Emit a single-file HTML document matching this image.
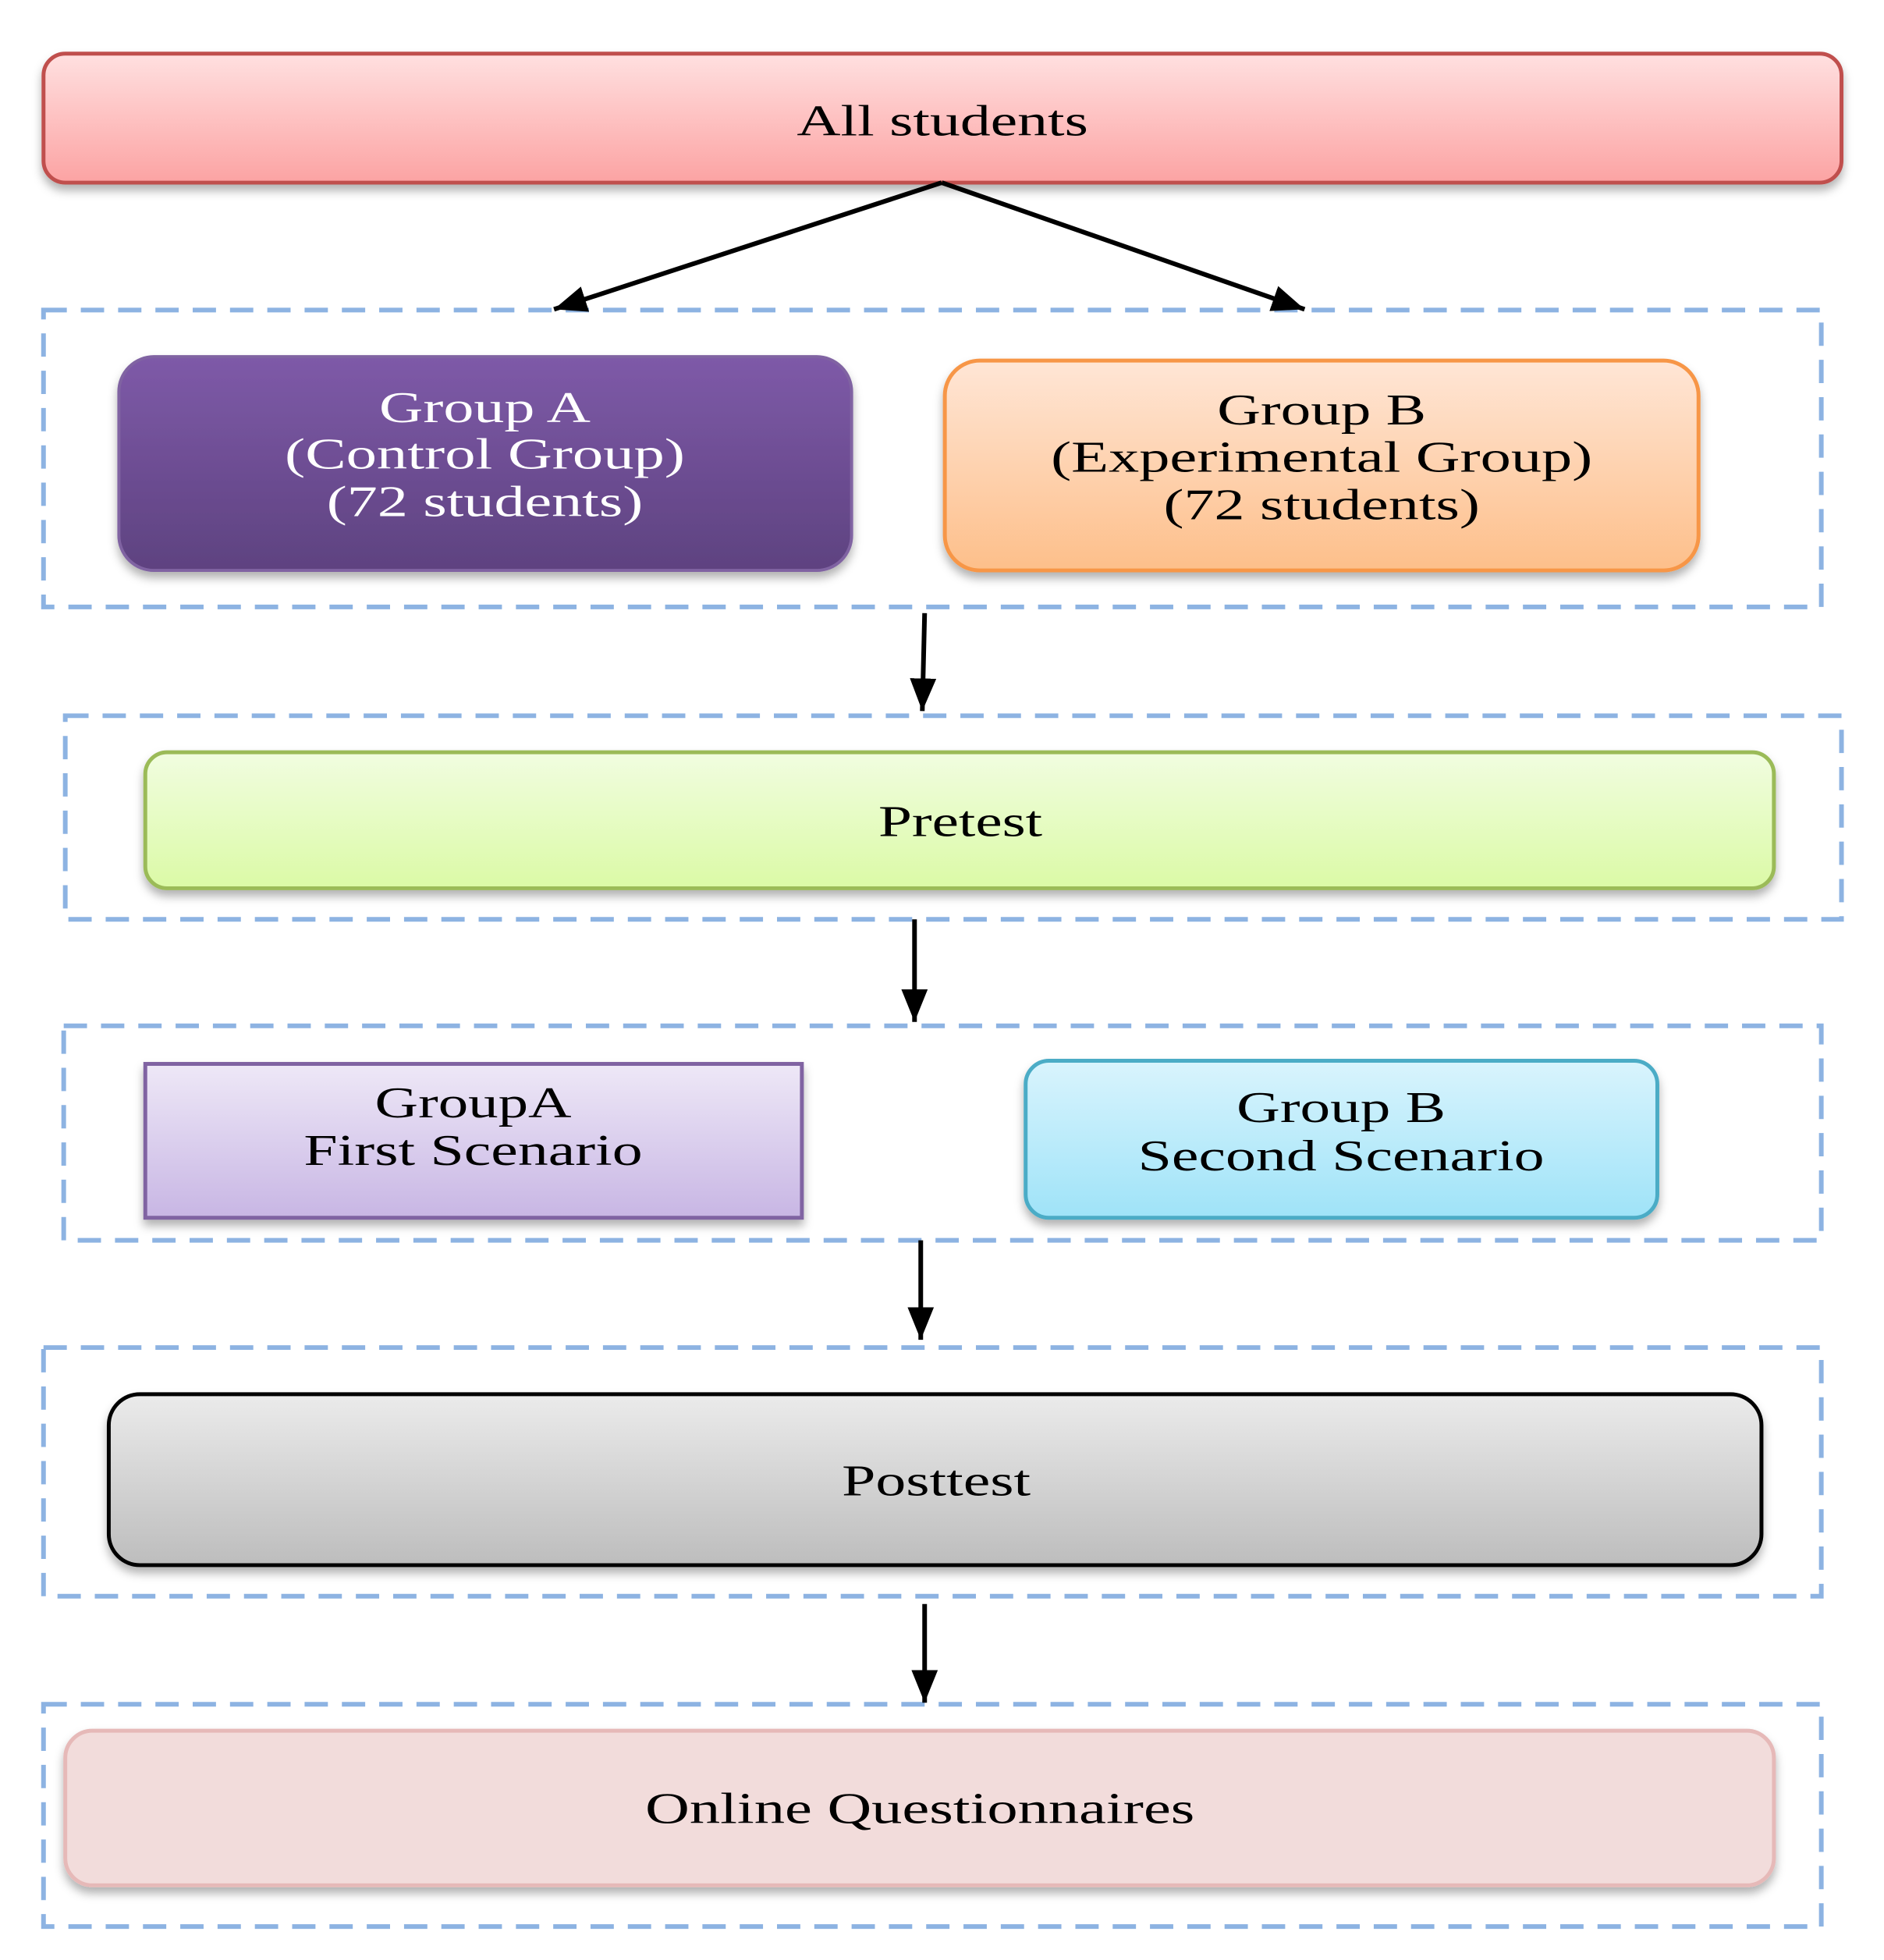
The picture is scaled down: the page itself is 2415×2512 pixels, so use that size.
<!DOCTYPE html>
<html><head><meta charset="utf-8"><style>html,body{margin:0;padding:0;background:#fff}svg{display:block}</style></head>
<body>
<svg width="2415" height="2512" viewBox="0 0 2415 2512" xmlns="http://www.w3.org/2000/svg" font-family="Liberation Serif, serif" font-size="56">
<defs>
<linearGradient id="gRed" x1="0" y1="0" x2="0" y2="1"><stop offset="0" stop-color="#ffe0e0"/><stop offset="1" stop-color="#fca3a3"/></linearGradient>
<linearGradient id="gPur" x1="0" y1="0" x2="0" y2="1"><stop offset="0" stop-color="#7e5aa8"/><stop offset="1" stop-color="#5e4280"/></linearGradient>
<linearGradient id="gOr" x1="0" y1="0" x2="0" y2="1"><stop offset="0" stop-color="#ffe6d6"/><stop offset="1" stop-color="#fdbf8a"/></linearGradient>
<linearGradient id="gGr" x1="0" y1="0" x2="0" y2="1"><stop offset="0" stop-color="#f1fde0"/><stop offset="1" stop-color="#dbfaa6"/></linearGradient>
<linearGradient id="gLav" x1="0" y1="0" x2="0" y2="1"><stop offset="0" stop-color="#eee8f7"/><stop offset="1" stop-color="#c8b6e4"/></linearGradient>
<linearGradient id="gCy" x1="0" y1="0" x2="0" y2="1"><stop offset="0" stop-color="#d9f4fd"/><stop offset="1" stop-color="#9fe3f8"/></linearGradient>
<linearGradient id="gGy" x1="0" y1="0" x2="0" y2="1"><stop offset="0" stop-color="#ebebeb"/><stop offset="1" stop-color="#bdbdbd"/></linearGradient>
<filter id="sh" x="-5%" y="-10%" width="110%" height="130%"><feDropShadow dx="0" dy="8" stdDeviation="6" flood-color="#000" flood-opacity="0.3"/></filter>
<marker id="ah" markerWidth="42" markerHeight="34" refX="10" refY="5" orient="auto" markerUnits="userSpaceOnUse" viewBox="0 0 10 10" preserveAspectRatio="none"><path d="M0,0 L10,5 L0,10 z" fill="#000"/></marker>
</defs>
<g transform="scale(0.996)">
<g fill="none" stroke="#8db3e2" stroke-width="6" stroke-dasharray="30,18">
<rect x="56" y="399" width="2288" height="382"/>
<rect x="84" y="921" width="2286" height="262"/>
<rect x="82" y="1320" width="2262" height="276"/>
<rect x="56" y="1734" width="2288" height="320"/>
<rect x="56" y="2193" width="2288" height="286"/>
</g>
<g filter="url(#sh)">
<rect x="56" y="69" width="2314" height="166" rx="28" fill="url(#gRed)" stroke="#c0504d" stroke-width="5"/>
<rect x="153" y="459" width="943" height="275" rx="45" fill="url(#gPur)" stroke="#8064a2" stroke-width="4"/>
<rect x="1216" y="464" width="970" height="270" rx="45" fill="url(#gOr)" stroke="#f79646" stroke-width="5"/>
<rect x="187" y="968" width="2096" height="175" rx="28" fill="url(#gGr)" stroke="#9bbb59" stroke-width="5"/>
<rect x="187" y="1369" width="845" height="198" fill="url(#gLav)" stroke="#8064a2" stroke-width="5"/>
<rect x="1320" y="1365" width="813" height="202" rx="30" fill="url(#gCy)" stroke="#4bacc6" stroke-width="5"/>
<rect x="140" y="1794" width="2127" height="220" rx="40" fill="url(#gGy)" stroke="#000" stroke-width="5"/>
<rect x="84" y="2227" width="2199" height="199" rx="35" fill="#f2dcdb" stroke="#e6b9b8" stroke-width="5"/>
</g>
<g stroke="#000" stroke-width="6" marker-end="url(#ah)">
<line x1="1212" y1="235" x2="713" y2="398"/>
<line x1="1212" y1="235" x2="1679" y2="398"/>
<line x1="1190" y1="789" x2="1187" y2="915"/>
<line x1="1177" y1="1183" x2="1177" y2="1315"/>
<line x1="1185" y1="1596" x2="1185" y2="1724"/>
<line x1="1190" y1="2064" x2="1190" y2="2191"/>
</g>
<g text-anchor="middle">
<text x="1213" y="174" textLength="375" lengthAdjust="spacingAndGlyphs">All students</text>
<g fill="#fff">
<text x="624" y="543" textLength="272" lengthAdjust="spacingAndGlyphs">Group A</text>
<text x="624" y="603" textLength="515" lengthAdjust="spacingAndGlyphs">(Control Group)</text>
<text x="624" y="664" textLength="407" lengthAdjust="spacingAndGlyphs">(72 students)</text>
</g>
<text x="1701" y="546" textLength="269" lengthAdjust="spacingAndGlyphs">Group B</text>
<text x="1701" y="607" textLength="697" lengthAdjust="spacingAndGlyphs">(Experimental Group)</text>
<text x="1701" y="668" textLength="407" lengthAdjust="spacingAndGlyphs">(72 students)</text>
<text x="1236" y="1076" textLength="211" lengthAdjust="spacingAndGlyphs">Pretest</text>
<text x="609" y="1438" textLength="253" lengthAdjust="spacingAndGlyphs">GroupA</text>
<text x="609" y="1499" textLength="436" lengthAdjust="spacingAndGlyphs">First Scenario</text>
<text x="1726" y="1444" textLength="269" lengthAdjust="spacingAndGlyphs">Group B</text>
<text x="1726" y="1506" textLength="523" lengthAdjust="spacingAndGlyphs">Second Scenario</text>
<text x="1205" y="1924" textLength="243" lengthAdjust="spacingAndGlyphs">Posttest</text>
<text x="1184" y="2346" textLength="707" lengthAdjust="spacingAndGlyphs">Online Questionnaires</text>
</g>
</g>
</svg>
</body></html>
